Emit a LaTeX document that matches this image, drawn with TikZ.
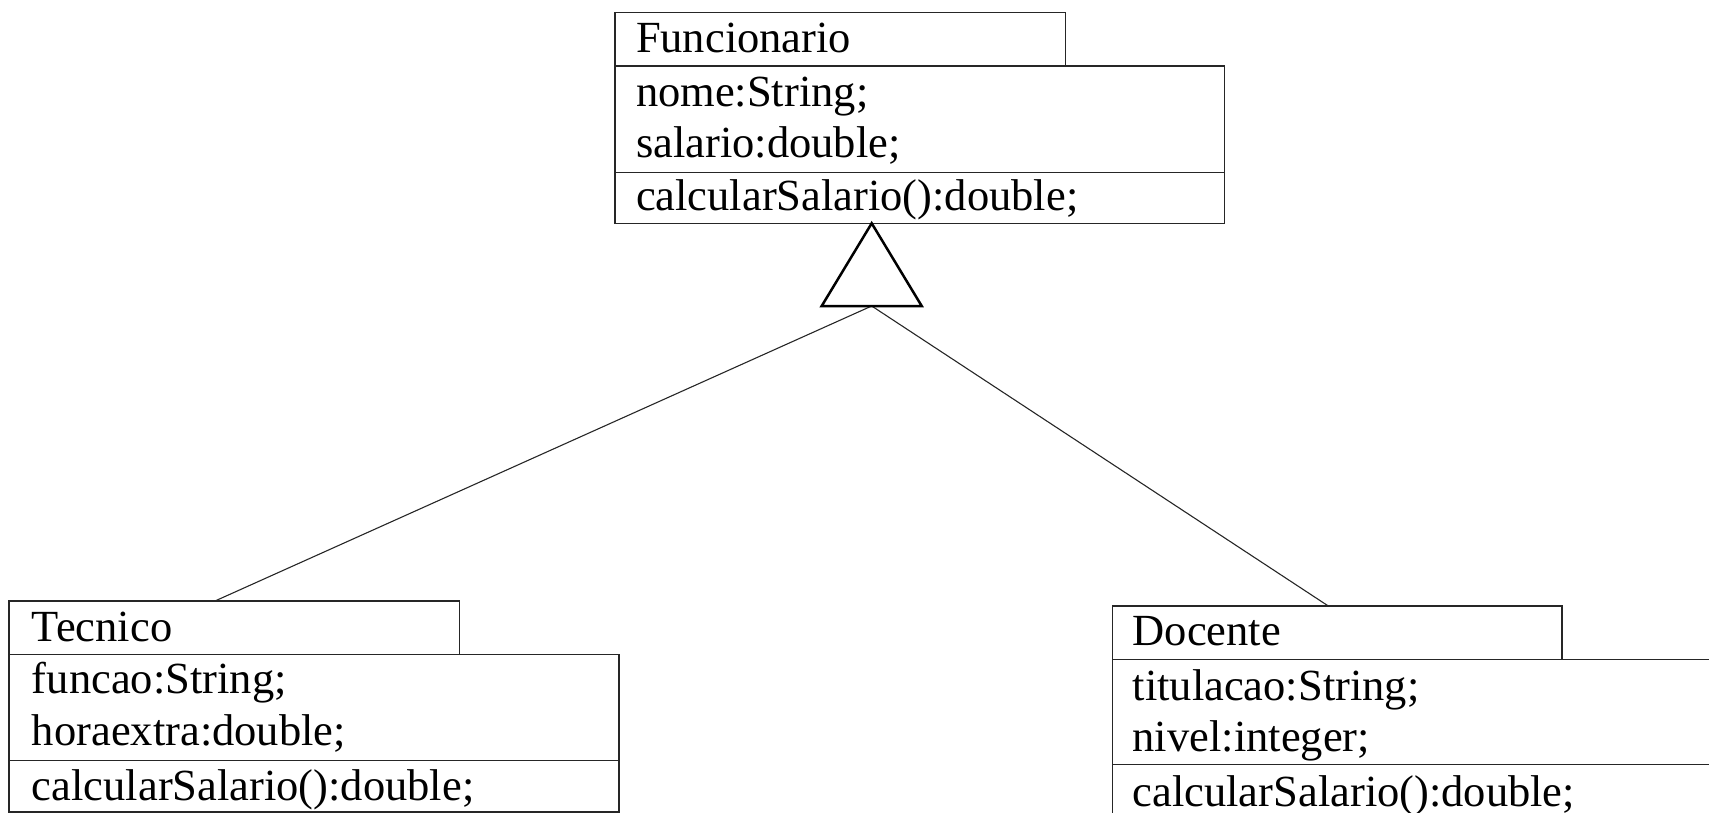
\documentclass[tikz,border=0pt]{standalone}
\usepackage{fontspec}
\setmainfont{Liberation Serif}
\begin{document}
\begin{tikzpicture}[x=0.5pt,y=-0.5pt,
  box/.style={draw=black!85,line width=0.65pt,inner sep=0pt,outer sep=0pt,anchor=north west},
  txt/.style={anchor=base west,inner sep=0pt,outer sep=0pt,font=\fontsize{22.25pt}{26pt}\selectfont},
  gen/.style={draw=black,line width=1.25pt,line join=miter},
  link/.style={draw=black!85,line width=0.55pt}]
\useasboundingbox (0,0) rectangle (1709,813);
% Funcionario
\node[box,minimum width=225.15pt,minimum height=26.85pt] (fname) at (615,12.3) {};
\node[box,minimum width=304.65pt,minimum height=53.35pt] (fattr) at (615,66) {};
\node[box,minimum width=304.65pt,minimum height=25.3pt] (fmeth) at (615,172.7) {};
\node[txt] (ft1) at (636,52.7) {Funcionario};
\node[txt] (ft2) at (636,106.7) {nome:String;};
\node[txt] (ft3) at (636,157.3) {salario:double;};
\node[txt] (ft4) at (636,210.7) {calcularSalario():double;};
% Tecnico
\node[box,minimum width=225.35pt,minimum height=26.65pt] (tname) at (9,601) {};
\node[box,minimum width=305pt,minimum height=53.2pt] (tattr) at (9,654.3) {};
\node[box,minimum width=305pt,minimum height=25.65pt] (tmeth) at (9,760.7) {};
\node[txt] (tt1) at (32,641) {Tecnico};
\node[txt] (tt2) at (32,693.3) {funcao:String;};
\node[txt] (tt3) at (32,745.7) {horaextra:double;};
\node[txt] (tt4) at (32,800) {calcularSalario():double;};
% Docente
\node[box,minimum width=224.85pt,minimum height=26.65pt] (dname) at (1112.3,606) {};
\node[box,minimum width=310pt,minimum height=52.5pt] (dattr) at (1112.3,659.3) {};
\node[box,minimum width=310pt,minimum height=26pt] (dmeth) at (1112.3,764.3) {};
\node[txt] (dt1) at (1132.7,645) {Docente};
\node[txt] (dt2) at (1132.7,700) {titulacao:String;};
\node[txt] (dt3) at (1132.7,751.7) {nivel:integer;};
\node[txt] (dt4) at (1132.7,806.7) {calcularSalario():double;};
% generalization
\coordinate (tapex) at (871.7,223.3);
\coordinate (tleft) at (821.7,306);
\coordinate (tright) at (921.7,306);
\coordinate (tbase) at (871.7,306);
\coordinate (tj) at (215,601);
\coordinate (dj) at (1328.3,606);
\draw[link] (tbase) -- (tj);
\draw[link] (tbase) -- (dj);
\draw[gen] (tapex) -- (tleft) -- (tright) -- cycle;
\end{tikzpicture}
\end{document}
